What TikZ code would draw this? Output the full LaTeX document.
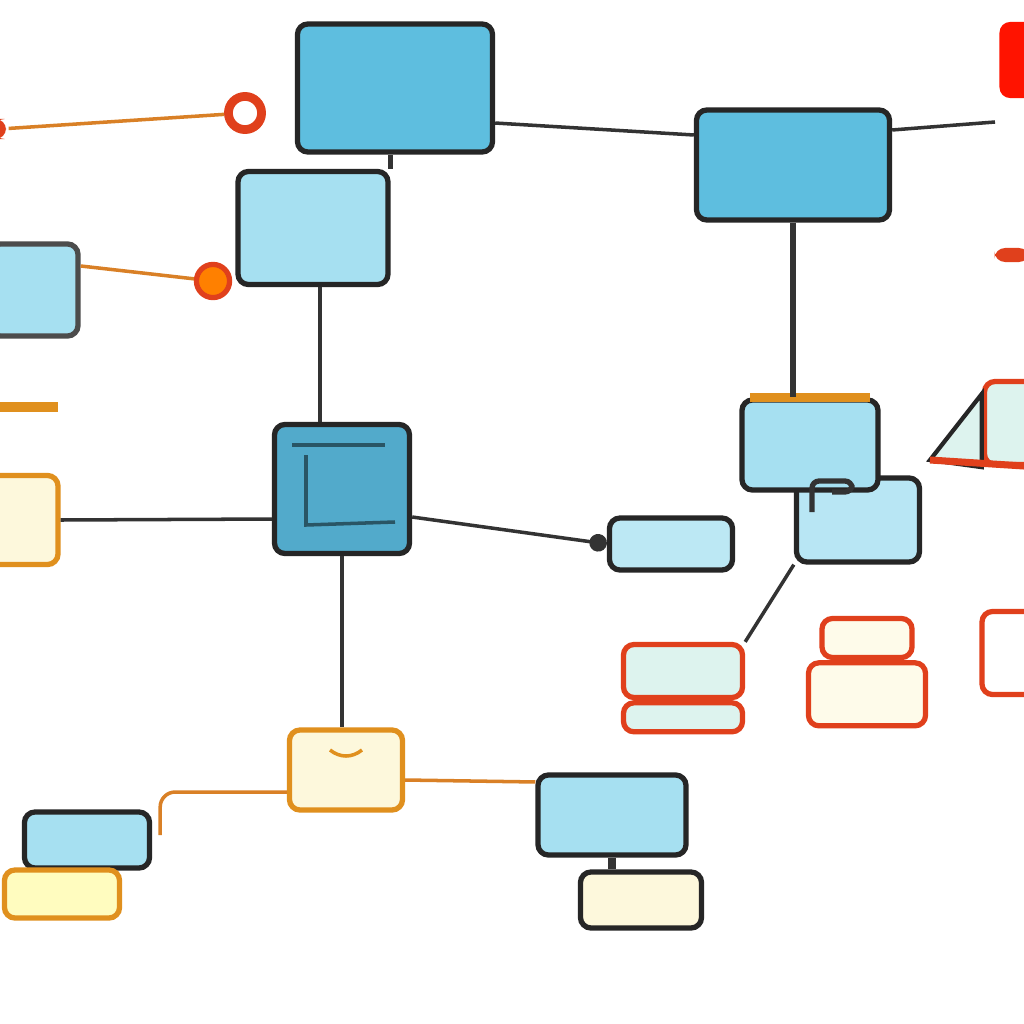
\documentclass[tikz,border=0pt]{standalone}
\usepackage{xcolor}
\usepackage{tikz}
\usetikzlibrary{positioning, arrows.meta}

\definecolor{skyblue}{HTML}{5EBEDF}
\definecolor{deepblue}{HTML}{52AACB}
\definecolor{paleblue}{HTML}{A6E0F1}
\definecolor{cream}{HTML}{FDF8DC}
\definecolor{amber}{HTML}{E0901E}
\definecolor{redline}{HTML}{E0401C}
\definecolor{mint}{HTML}{DDF3EE}

\begin{document}
\begin{tikzpicture}[
        x=0.01cm, y=-0.01cm,
        box/.style={rectangle, rounded corners=3pt, draw=black!85, line width=1.5pt, inner sep=0pt},
        bluebox/.style={box, fill=skyblue},
        palebox/.style={box, fill=paleblue},
        creambox/.style={box, fill=cream, draw=amber},
        redbox/.style={box, fill=mint, draw=redline},
        link/.style={draw=black!80, line width=1pt},
        orlink/.style={draw=brown!60!orange, line width=1pt}
    ]
    \fill[white] (0,0) rectangle (1024,1024);
    \useasboundingbox (0,0) rectangle (1024,1024);

    % Top row
    \node[bluebox, minimum width=1.95cm, minimum height=1.28cm] (main) at (395,88) {};
    \node[bluebox, minimum width=1.93cm, minimum height=1.10cm] (east) at (793,165) {};
    \node[box, fill=red!85!orange, draw=none, minimum width=0.45cm, minimum height=0.76cm] (corner) at (1022,60) {};
    \node[box, fill=redline, draw=none, minimum width=0.35cm, minimum height=0.14cm] (notch) at (1012,255) {};
    \coordinate (eastend) at (995,122);

    % Left column
    \node[palebox, minimum width=1.50cm, minimum height=1.13cm] (upper) at (313,228) {};
    \node[palebox, draw=black!70, minimum width=0.88cm, minimum height=0.92cm] (edge) at (34,290) {};
    \node[circle, draw=redline, line width=2.5pt, fill=white, minimum size=0.26cm] (ring) at (245,113) {};
    \node[circle, draw=redline, line width=1.5pt, fill=orange, minimum size=0.2cm] (dot) at (213,281) {};
    \node[box, fill=redline, draw=none, minimum width=0.12cm, minimum height=0.2cm] (stub) at (0,129) {};
    \draw[amber, line width=3pt] (0,407) -- (58,407);
    \node[creambox, minimum width=0.78cm, minimum height=0.89cm] (side) at (19,520) {};

    % Center
    \node[bluebox, fill=deepblue, minimum width=1.35cm, minimum height=1.29cm] (hub) at (342,489) {};
    \draw[black!50!deepblue, line width=1pt] (292,445) -- (385,445);
    \draw[black!50!deepblue, line width=1pt] (306,455) -- (306,525) -- (395,522);

    % Right group
    \node[palebox, fill=paleblue!80!white, minimum width=1.23cm, minimum height=0.84cm] (lower) at (858,520) {};
    \node[palebox, minimum width=1.36cm, minimum height=0.90cm] (mid) at (810,445) {};
    \draw[amber, line width=2.5pt] ([xshift=3pt]mid.north west) -- ([xshift=-3pt]mid.north east);
    \draw[black!80, line width=1.5pt, rounded corners=2pt] (812,512) -- (812,481) -- (852,481) -- (852,492) -- (832,492);
    \node[palebox, fill=paleblue!75!white, minimum width=1.23cm, minimum height=0.52cm] (tab) at (671,544) {};

    % Red stacks
    \node[redbox, minimum width=1.19cm, minimum height=0.53cm] (stackA) at (683,671) {};
    \node[redbox, minimum width=1.19cm, minimum height=0.29cm, below=0pt of stackA] (stackB) {};
    \node[redbox, fill=cream!60!white, minimum width=0.90cm, minimum height=0.39cm] (pileA) at (867,638) {};
    \node[redbox, fill=cream!60!white, minimum width=1.17cm, minimum height=0.63cm, below=0pt of pileA] (pileB) {};
    \node[redbox, fill=white, minimum width=0.60cm, minimum height=0.83cm] (rim) at (1012,653) {};
    \node[redbox, minimum width=0.55cm, minimum height=0.83cm] (peak) at (1012,423) {};
    \coordinate (peaktip) at (930,460);
    \filldraw[fill=mint, draw=black!85, line width=1.2pt] (peaktip) -- ([yshift=-0.15cm]peak.north west) -- (peak.south west) -- cycle;
    \draw[redline, line width=2pt] (peaktip) -- (peak.south east);

    % Bottom
    \node[creambox, minimum width=1.13cm, minimum height=0.80cm] (base) at (346,770) {};
    \draw[amber, line width=1pt] (330,750) .. controls (340,758) and (352,758) .. (362,750);
    \node[palebox, minimum width=1.48cm, minimum height=0.80cm] (branch) at (612,815) {};
    \node[creambox, draw=black!85, minimum width=1.21cm, minimum height=0.56cm] (leaf) at (641,900) {};
    \node[palebox, minimum width=1.25cm, minimum height=0.56cm] (twig) at (87,840) {};
    \node[creambox, fill=yellow!25, minimum width=1.15cm, minimum height=0.48cm] (bud) at (62,894) {};

    % Connections
    \draw[orlink] (stub) -- (ring);
    \draw[link] ([yshift=-0.35cm]main.east) -- ([yshift=0.3cm]east.west);
    \draw[link] ([yshift=0.35cm]east.east) -- (eastend);
    \draw[link, line width=1.6pt] (east.south) -- (east.south |- mid.north);
    \draw[link, line width=1.6pt] (upper.north east) -- (upper.north east |- main.south);
    \draw[link] ([xshift=0.07cm]upper.south) -- ([xshift=0.07cm]upper.south |- hub.north);
    \draw[orlink] ([yshift=0.24cm]edge.east) -- (dot);
    \draw[link] ([yshift=-0.3cm]hub.west) -- (side.east);
    \draw[link, -{Circle[length=5pt]}] ([yshift=-0.28cm]hub.east) -- (tab.west);
    \draw[link] (hub.south) -- (hub.south |- base.north);
    \draw[orlink, rounded corners=0.15cm] ([yshift=-0.22cm]base.west) -| ([xshift=0.08cm,yshift=0.05cm]twig.east);
    \draw[orlink] ([yshift=-0.1cm]base.east) -- ([yshift=0.33cm]branch.west);
    \draw[link, line width=2pt] (branch.south) -- (branch.south |- leaf.north);
    \draw[link] (lower.south west) -- (stackA.north east);

\end{tikzpicture}
\end{document}
